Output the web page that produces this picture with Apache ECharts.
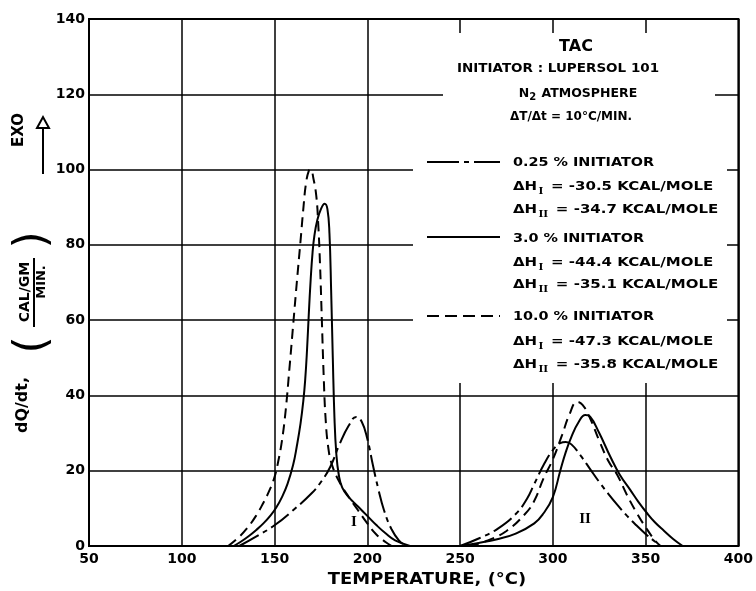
<!DOCTYPE html>
<html><head><meta charset="utf-8">
<script src="https://cdn.jsdelivr.net/npm/echarts@6/dist/echarts.min.js"></script>
<style>html,body{margin:0;padding:0;background:#fff}#c{width:756px;height:591px}</style>
</head><body><div id="c"></div>
<script>
// Axis ticks
const xTicks = [50, 100, 150, 200, 250, 300, 350, 400];
const yTicks = [0, 20, 40, 60, 80, 100, 120, 140];

const seriesNames = ['0.25 % INITIATOR', '3.0 % INITIATOR', '10.0 % INITIATOR'];

// 0.25 % initiator (dash-dot): [temperature °C, dQ/dt]
const low_peakI = [[131,0],[140,2.5],[150,5.5],[160,9.5],[170,14],[175,17],[180,21],[185,27],[190,32],[194,34.3],[197,33],[200,28.5],[203,21.5],[206,15],[209,9.5],[213,4.5],[217,1.5],[221,0]];
const low_peakII = [[250,0],[260,2],[270,4.5],[280,8.5],[286,12.5],[290,16.5],[295,21.5],[300,25.5],[304,27.3],[307,27.6],[310,27],[315,24],[320,20.5],[325,17],[330,13.8],[335,10.8],[340,8],[345,5.5],[350,3.2],[355,1.2],[358,0]];

// 3.0 % initiator (solid)
const mid_peakI = [[128,0],[132,1.2],[136,2.6],[140,4.2],[144,6],[148,8.2],[151,10.3],[154,13],[157,16.5],[160,21.5],[162,26.5],[164,32.5],[165.5,38.5],[166.5,44],[167.5,52],[168.5,62],[169.5,71],[170.5,78],[171.5,82.5],[173,86.5],[175,89.5],[177,90.9],[178.5,89.5],[179.6,83],[180.5,68],[181.4,50],[182.3,34],[183.3,24.5],[184.6,19],[186.5,15.5],[190,13],[195,10.5],[200,8],[205,5.5],[210,3.3],[215,1.5],[223,0]];
const mid_peakII = [[250,0],[260,0.8],[270,1.8],[280,3.3],[290,6],[295,8.7],[300,13],[304,20],[307,25],[310,29],[314,33],[317.5,34.8],[320,34.4],[325,30],[331,23.7],[336,19],[341.7,14.9],[346,11.8],[350.8,8.7],[355,6.3],[360,4],[365,1.8],[370,0]];

// 10.0 % initiator (dashed)
const high_peakI = [[125,0],[130,2],[135,4.6],[140,8],[144,11.5],[147,14.5],[150,18.3],[152,22.5],[154,28],[156,36],[158,47],[160,58.5],[162,70],[164,81],[165.5,89.5],[167,96.5],[168.5,99.7],[169.5,100],[171,97.5],[172.5,93],[173.5,86],[174.5,75],[175.5,60],[176.5,45],[177.5,34],[179,26],[181,21.5],[185,17],[190,13],[195,9.5],[200,6],[205,3],[210,1],[213,0]];
const high_peakII = [[255,0],[265,1.5],[275,4],[285,8.5],[290,12],[295,18],[300,23],[305,29.5],[309,35],[313,38.3],[316,37.5],[320,34],[325,28],[330,22.5],[334.6,19],[340,13.5],[345.3,8.7],[350,5],[355,1.5],[358,0]];

const legendTexts = [
  ['{d|ΔH}{s|I}{d| = -30.5 KCAL/MOLE}', '{d|ΔH}{s|II}{d| = -34.7 KCAL/MOLE}'],
  ['{d|ΔH}{s|I}{d| = -44.4 KCAL/MOLE}', '{d|ΔH}{s|II}{d| = -35.1 KCAL/MOLE}'],
  ['{d|ΔH}{s|I}{d| = -47.3 KCAL/MOLE}', '{d|ΔH}{s|II}{d| = -35.8 KCAL/MOLE}']
];

const FONT = '"DejaVu Sans", "Liberation Sans", sans-serif';
const dashStyles = [[22, 5, 5, 5], 'solid', [10, 6]];
const legendDash = [[32, 5, 5, 5], null, [12, 6]];
const dataSets = [[low_peakI, low_peakII], [mid_peakI, mid_peakII], [high_peakI, high_peakII]];

const series = [];
dataSets.forEach((pair, i) => {
  pair.forEach(d => {
    series.push({
      type: 'line', name: seriesNames[i], data: d, symbol: 'none', smooth: 0.45,
      lineStyle: {color: '#000', width: 2, type: dashStyles[i]},
      itemStyle: {color: '#000'}, z: 6
    });
  });
});

const rich = {
  d: {fontFamily: FONT, fontWeight: 'bold', fontSize: 12, color: '#000'},
  s: {fontFamily: '"Liberation Serif", serif', fontWeight: 'bold', fontSize: 10, color: '#000', padding: [8, 2, 0, 1]}
};

const graphics = [
  {type: 'rect', shape: {x: 443, y: 33, width: 272, height: 82}, style: {fill: '#fff'}, z: 3},
  {type: 'rect', shape: {x: 413, y: 113, width: 314, height: 270}, style: {fill: '#fff'}, z: 3},
  {type: 'text', x: 576, y: 47, z: 5, style: {text: 'TAC', font: 'bold 16px ' + FONT, fill: '#000', align: 'center', verticalAlign: 'middle'}},
  {type: 'text', x: 558, y: 69, z: 5, scaleX: 1.08, style: {text: 'INITIATOR : LUPERSOL 101', font: 'bold 12.5px ' + FONT, fill: '#000', align: 'center', verticalAlign: 'middle'}},
  {type: 'text', x: 578, y: 94, z: 5, style: {text: '{d|N}{n|2}{d| ATMOSPHERE}', rich: {d: {fontFamily: FONT, fontWeight: 'bold', fontSize: 12.5}, n: {fontFamily: FONT, fontWeight: 'bold', fontSize: 10, padding: [6, 1, 0, 0]}}, align: 'center', verticalAlign: 'middle'}},
  {type: 'text', x: 571, y: 117, z: 5, style: {text: 'ΔT/Δt = 10°C/MIN.', font: 'bold 12px ' + FONT, fill: '#000', align: 'center', verticalAlign: 'middle'}}
];
// legend samples and texts
const sampleYs = [162, 237, 316];
const lineYs = [[163, 187, 210], [239, 263, 285], [317, 342, 365]];
seriesNames.forEach((n, i) => {
  const st = {stroke: '#000', lineWidth: 2};
  if (legendDash[i]) st.lineDash = legendDash[i];
  graphics.push({type: 'line', z: 5, shape: {x1: 427, y1: sampleYs[i], x2: 500, y2: sampleYs[i]}, style: st});
  graphics.push({type: 'text', x: 513, y: lineYs[i][0], z: 5, scaleX: 1.2, style: {text: n, font: 'bold 12px ' + FONT, fill: '#000', align: 'left', verticalAlign: 'middle'}});
  legendTexts[i].forEach((t, j) => {
    graphics.push({type: 'text', x: 513, y: lineYs[i][j + 1], z: 5, scaleX: 1.25, style: {text: t, rich: rich, align: 'left', verticalAlign: 'middle'}});
  });
});
// region labels
graphics.push({type: 'text', x: 354, y: 522, z: 5, style: {text: 'I', font: 'bold 15px "Liberation Serif", serif', fill: '#000', align: 'center', verticalAlign: 'middle'}});
graphics.push({type: 'text', x: 585, y: 519, z: 5, style: {text: 'II', font: 'bold 15px "Liberation Serif", serif', fill: '#000', align: 'center', verticalAlign: 'middle'}});
// x axis title
graphics.push({type: 'text', x: 427, y: 580, z: 5, scaleX: 1.12, style: {text: 'TEMPERATURE, (°C)', font: 'bold 16px ' + FONT, fill: '#000', align: 'center', verticalAlign: 'middle'}});
// y axis title pieces
graphics.push({type: 'text', x: 23, y: 405, rotation: Math.PI / 2, z: 5, style: {text: 'dQ/dt,', font: 'bold 16px ' + FONT, fill: '#000', align: 'center', verticalAlign: 'middle'}});
graphics.push({type: 'text', x: 34, y: 345, rotation: Math.PI / 2, z: 5, style: {text: '(', font: '44px ' + FONT, fill: '#000', align: 'center', verticalAlign: 'middle'}});
graphics.push({type: 'text', x: 34, y: 240, rotation: Math.PI / 2, z: 5, style: {text: ')', font: '44px ' + FONT, fill: '#000', align: 'center', verticalAlign: 'middle'}});
graphics.push({type: 'text', x: 25, y: 292, rotation: Math.PI / 2, z: 5, style: {text: 'CAL/GM', font: 'bold 14px ' + FONT, fill: '#000', align: 'center', verticalAlign: 'middle'}});
graphics.push({type: 'line', z: 5, shape: {x1: 34, y1: 327, x2: 34, y2: 258}, style: {stroke: '#000', lineWidth: 2}});
graphics.push({type: 'text', x: 42, y: 282, rotation: Math.PI / 2, z: 5, style: {text: 'MIN.', font: 'bold 13px ' + FONT, fill: '#000', align: 'center', verticalAlign: 'middle'}});
graphics.push({type: 'text', x: 19, y: 130, rotation: Math.PI / 2, z: 5, style: {text: 'EXO', font: 'bold 15px ' + FONT, fill: '#000', align: 'center', verticalAlign: 'middle'}});
graphics.push({type: 'line', z: 5, shape: {x1: 43, y1: 174, x2: 43, y2: 126}, style: {stroke: '#000', lineWidth: 2}});
graphics.push({type: 'polygon', z: 5, shape: {points: [[37, 128], [43, 117], [49, 128]]}, style: {fill: '#fff', stroke: '#000', lineWidth: 2}});

const chart = echarts.init(document.getElementById('c'), null, {renderer: 'canvas'});
chart.setOption({
  backgroundColor: '#fff',
  animation: false,
  grid: {left: 89, right: 14, top: 19, bottom: 45, show: true, borderColor: '#000', borderWidth: 2, backgroundColor: 'transparent'},
  xAxis: {
    type: 'value', min: xTicks[0], max: xTicks[xTicks.length - 1], interval: 50,
    axisLine: {lineStyle: {color: '#000', width: 2}},
    axisTick: {show: false},
    axisLabel: {margin: 6, fontFamily: FONT, fontWeight: 'bold', fontSize: 14, color: '#000'},
    splitLine: {show: true, lineStyle: {color: '#000', width: 1.5}}
  },
  yAxis: {
    type: 'value', min: yTicks[0], max: yTicks[yTicks.length - 1], interval: 20,
    axisLine: {lineStyle: {color: '#000', width: 2}},
    axisTick: {show: false},
    axisLabel: {margin: 4, fontFamily: FONT, fontWeight: 'bold', fontSize: 14, color: '#000'},
    splitLine: {show: true, lineStyle: {color: '#000', width: 1.5}}
  },
  graphic: graphics,
  series: series
});
</script></body></html>
